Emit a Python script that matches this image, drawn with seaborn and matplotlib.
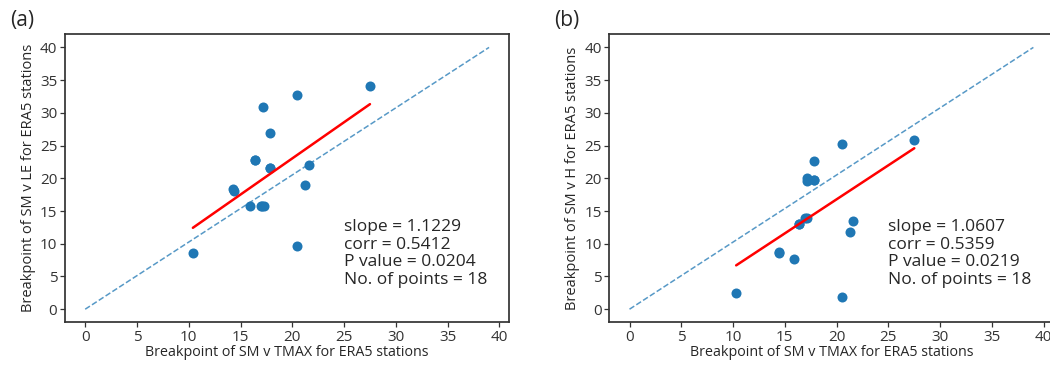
import numpy as np
import pandas as pd
import matplotlib
matplotlib.use("Agg")
import matplotlib.pyplot as plt
import seaborn as sns

# breakpoint of SM v TMAX (x, shared by both panels)
tmax_le = [10.4, 14.3, 14.4, 15.9, 16.4, 17.0, 17.15, 17.3, 17.8, 17.8,
           20.5, 20.5, 21.2, 21.65, 27.5, 17.1, 17.8, 16.4]
le_bp = [8.6, 18.3, 18.0, 15.7, 22.85, 15.7, 30.9, 15.7, 26.9, 21.5,
         32.7, 9.7, 19.0, 22.1, 34.1, 15.7, 21.5, 22.85]

tmax_h = [27.5, 20.5, 17.8, 17.1, 17.1, 17.8, 16.9, 16.4, 21.6, 21.25,
          14.4, 15.9, 10.3, 20.5, 14.4, 17.8, 16.4, 17.1]
h_bp = [25.9, 25.2, 22.7, 20.05, 19.6, 19.8, 13.95, 13.05, 13.5, 11.8,
        8.6, 7.6, 2.4, 1.8, 8.7, 19.8, 13.05, 13.9]

# 1:1 reference line ends
ref_x = [0, 39]
ref_y = [0, 40]

stats_le = "slope = 1.1229\ncorr = 0.5412\nP value = 0.0204\nNo. of points = 18"
stats_h = "slope = 1.0607\ncorr = 0.5359\nP value = 0.0219\nNo. of points = 18"

sns.set_theme(style="ticks")
plt.rcParams["font.family"] = ["Open Sans", "DejaVu Sans"]

fig = plt.figure(figsize=(10.5, 3.65), dpi=100)
ax1 = fig.add_axes([0.0619, 0.117, 0.4231, 0.789])
ax2 = fig.add_axes([0.5803, 0.117, 0.4231, 0.789])

panels = [
    (ax1, tmax_le, le_bp, stats_le, "Breakpoint of SM v LE for ERA5 stations", "(a)", 0.010),
    (ax2, tmax_h, h_bp, stats_h, "Breakpoint of SM v H for ERA5 stations", "(b)", 0.528),
]

for ax, xs, ys, txt, ylab, tag, tag_x in panels:
    df = pd.DataFrame({"x": xs, "y": ys})
    sns.lineplot(x=ref_x, y=ref_y, ax=ax, color="#1f77b4", alpha=0.75,
                 linestyle="--", linewidth=1.1)
    sns.regplot(data=df, x="x", y="y", ax=ax, ci=None, color="#1f77b4",
                scatter_kws={"s": 52, "alpha": 1, "linewidths": 0},
                line_kws={"color": "red", "linewidth": 1.8})
    ax.set_xlim(-1.95, 40.95)
    ax.set_ylim(-2.0, 42.0)
    ax.set_xticks(range(0, 41, 5))
    ax.set_yticks(range(0, 41, 5))
    ax.tick_params(labelsize=11, length=3.5, width=0.9, pad=2, colors="#333333")
    for s in ax.spines.values():
        s.set_color("#333333")
    ax.set_xlabel("Breakpoint of SM v TMAX for ERA5 stations", fontsize=10.3, labelpad=0)
    ax.set_ylabel(ylab, fontsize=10.5, labelpad=3)
    ax.text(25, 3.2, txt, fontsize=12.5, va="bottom", ha="left", linespacing=1.15)
    fig.text(tag_x, 0.945, tag, fontsize=15, va="center", ha="left")

fig.savefig("out.png", dpi=100)
